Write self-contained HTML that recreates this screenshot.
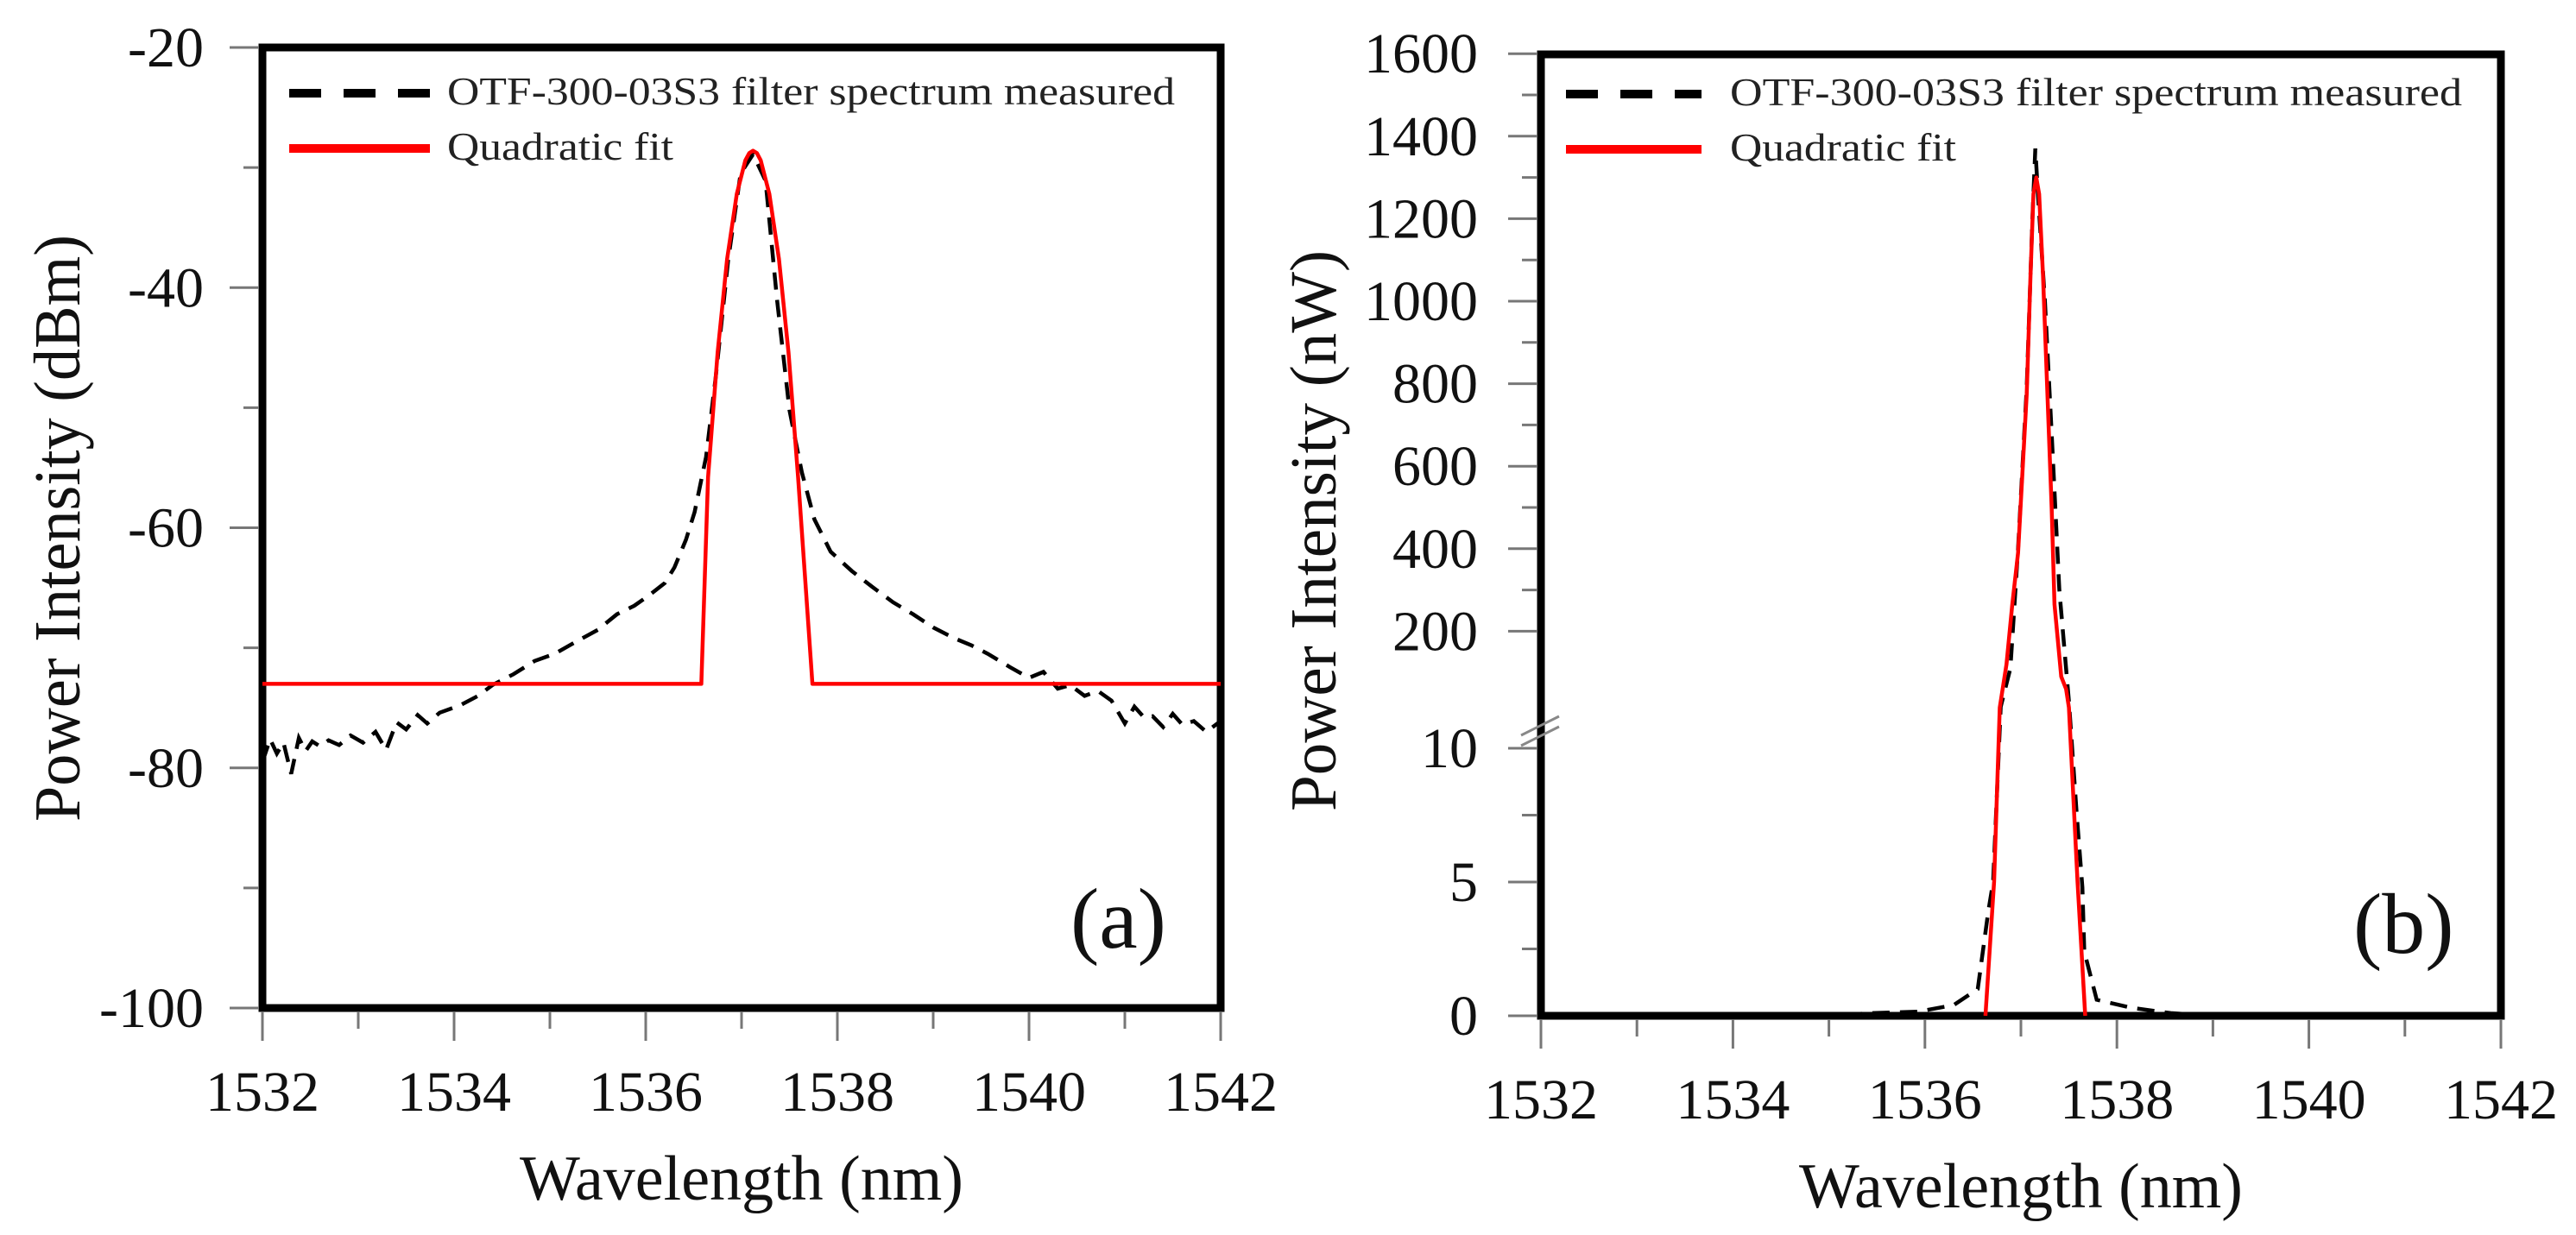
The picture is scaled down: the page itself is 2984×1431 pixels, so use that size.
<!DOCTYPE html>
<html><head><meta charset="utf-8"><style>
html,body{margin:0;padding:0;background:#fff;}
svg{display:block;font-family:"Liberation Serif",serif;}
</style></head><body>
<svg id="fig" width="2984" height="1431" viewBox="0 0 2984 1431" xmlns="http://www.w3.org/2000/svg">
<g id="pa"></g>
<g id="pb"></g>
</svg>
<script>
// ---- Panel (a) data (dBm) ----
const aMeasX = [1532.00,1532.08,1532.15,1532.22,1532.30,1532.38,1532.45,1532.52,1532.60,1532.69,1532.80,1532.92,1533.05,1533.18,1533.29,1533.40,1533.50,1533.62,1533.72,1533.85,1534.06,1534.25,1534.40,1534.62,1534.84,1535.05,1535.27,1535.50,1535.70,1535.88,1536.04,1536.20,1536.30,1536.42,1536.51,1536.63,1536.73,1536.86,1536.99,1537.12,1537.25,1537.37,1537.50,1537.63,1537.76,1537.93,1538.15,1538.36,1538.58,1538.79,1539.00,1539.22,1539.40,1539.57,1539.80,1540.00,1540.15,1540.30,1540.43,1540.58,1540.72,1540.86,1541.00,1541.10,1541.20,1541.29,1541.40,1541.50,1541.60,1541.72,1541.85,1542.00];
const aMeasY = [-79.5,-77.6,-78.8,-77.9,-80.5,-77.5,-78.6,-77.8,-78.2,-77.7,-78.1,-77.3,-77.9,-77.0,-78.5,-76.2,-76.8,-75.6,-76.3,-75.4,-74.8,-74.0,-73.1,-72.2,-71.1,-70.5,-69.5,-68.5,-67.2,-66.5,-65.6,-64.6,-63.3,-61.0,-58.7,-54.1,-47.5,-37.7,-30.5,-28.9,-31.1,-41.0,-50.2,-55.4,-59.3,-62.0,-63.6,-64.9,-66.2,-67.2,-68.3,-69.2,-69.8,-70.5,-71.6,-72.5,-72.0,-73.4,-73.1,-74.0,-73.6,-74.4,-76.3,-74.9,-75.8,-75.7,-76.6,-75.5,-76.4,-76.1,-77.0,-76.1];
const aFitX = [1532.00,1536.58,1536.65,1536.75,1536.85,1536.95,1537.04,1537.08,1537.12,1537.16,1537.20,1537.29,1537.39,1537.49,1537.59,1537.67,1537.74,1542.00];
const aFitY = [-73.0,-73.0,-55.8,-45.4,-37.6,-32.2,-29.4,-28.8,-28.6,-28.8,-29.4,-32.2,-37.6,-45.4,-55.8,-65.0,-73.0,-73.0];
const aYTicks = [-20,-40,-60,-80,-100];
const aYLabels = ["-20","-40","-60","-80","-100"];
const xTicks = [1532,1534,1536,1538,1540,1542];
const xLabels = ["1532","1534","1536","1538","1540","1542"];

// ---- Panel (b) data (nW, broken axis) ----
const bMeasX = [1532.00,1535.00,1535.45,1535.92,1536.30,1536.55,1536.66,1536.71,1536.79,1536.89,1536.97,1537.06,1537.12,1537.15,1537.18,1537.25,1537.32,1537.40,1537.50,1537.58,1537.64,1537.66,1537.79,1538.15,1538.56,1539.00,1542.00];
const bMeasY = [0,0,0.1,0.15,0.4,1.0,3.9,5.0,17,110,400,790,1200,1370,1250,1000,680,300,30,7.6,4.8,2.4,0.6,0.3,0.1,0,0];
const bFitX = [1536.63,1536.72,1536.78,1536.85,1536.91,1536.97,1537.06,1537.10,1537.13,1537.16,1537.19,1537.23,1537.32,1537.35,1537.42,1537.47,1537.50,1537.59,1537.67];
const bFitY = [0,5,15,120,265,390,774,1062,1260,1300,1260,1062,500,265,90,60,15,5,0];
const bYTicksUp = [200,400,600,800,1000,1200,1400,1600];
const bYLabelsUp = ["200","400","600","800","1000","1200","1400","1600"];
const bYTicksLow = [0,5,10];
const bYLabelsLow = ["0","5","10"];

const NS="http://www.w3.org/2000/svg";
function mk(parent,tag,attrs,text){const e=document.createElementNS(NS,tag);for(const k in attrs)e.setAttribute(k,attrs[k]);if(text!==undefined)e.textContent=text;parent.appendChild(e);return e;}

function drawPanel(g, box, xs, ys, opt){
  const fr=mk(g,'rect',{x:box.l,y:box.t,width:box.r-box.l,height:box.b-box.t,fill:'none',stroke:'#000','stroke-width':9});
  
  
  for(let v=1532;v<=1542;v++){
    const major=(v%2===0);
    const tk=mk(g,'line',{x1:xs(v),x2:xs(v),y1:box.b+4,y2:box.b+(major?38:24),stroke:'#777','stroke-width':3});
    
    
  }
  xTicks.forEach((v,i)=>{
    const t=mk(g,'text',{x:xs(v),y:box.b+119,'font-size':66,'text-anchor':'middle',fill:'#111'},xLabels[i]);
    
    
  });
  const xt=mk(g,'text',{x:(box.l+box.r)/2,y:box.b+222,'font-size':74,'text-anchor':'middle',fill:'#111'},'Wavelength (nm)');
  
  
  const yt=mk(g,'text',{x:0,y:0,'font-size':76,'text-anchor':'middle',fill:'#111',transform:`translate(${opt.ytx},${opt.yty}) rotate(-90)`,textLength:opt.ytl,lengthAdjust:'spacingAndGlyphs'},opt.ytitle);
  
  
  const l1=mk(g,'line',{x1:opt.lgx1,x2:opt.lgx2,y1:opt.lgy,y2:opt.lgy,stroke:'#000','stroke-width':10,'stroke-dasharray':'37 26'});
  
  
  const t1=mk(g,'text',{x:opt.lgtx,y:opt.lgy+13,'font-size':46,fill:'#222',textLength:opt.lgtl,lengthAdjust:'spacingAndGlyphs'},'OTF-300-03S3  filter spectrum measured');
  
  
  const l2=mk(g,'line',{x1:opt.lgx1,x2:opt.lgx2,y1:opt.lgy+64,y2:opt.lgy+64,stroke:'#f00','stroke-width':10});
  
  
  const t2=mk(g,'text',{x:opt.lgtx,y:opt.lgy+77,'font-size':46,fill:'#222',textLength:262,lengthAdjust:'spacingAndGlyphs'},'Quadratic  fit');
  
  
  const pl=mk(g,'text',{x:opt.plx,y:opt.ply,'font-size':100,fill:'#111'},opt.plabel);
  
  
}
function pathFrom(X,Y,xs,ys){return X.map((x,i)=>(i?'L':'M')+xs(x).toFixed(1)+','+ys(Y[i]).toFixed(1)).join(' ');}

(function(){
  const g=document.getElementById('pa');
  const box={l:304,r:1414,t:55,b:1168};
  const xs=v=>box.l+(v-1532)/10*(box.r-box.l);
  const ys=v=>box.t+(-20-v)/80*(box.b-box.t);
  drawPanel(g,box,xs,ys,{ytitle:'Power Intensity (dBm)',ytx:92,yty:612,ytl:680,lgx1:335,lgx2:498,lgy:108,lgtx:518,lgtl:843,plabel:'(a)',plx:1240,ply:1098});
  for(let v=-20;v>=-100;v-=10){
    const major=(v%20===0);
    const tk=mk(g,'line',{x1:box.l-4,x2:box.l-(major?38:22),y1:ys(v),y2:ys(v),stroke:'#777','stroke-width':3});
    
    
  }
  aYTicks.forEach((v,i)=>{
    const t=mk(g,'text',{x:236,y:ys(v)+22,'font-size':66,'text-anchor':'end',fill:'#111'},aYLabels[i]);
    
    
  });
  const m=mk(g,'path',{d:pathFrom(aMeasX,aMeasY,xs,ys),fill:'none',stroke:'#000','stroke-width':4.5,'stroke-dasharray':'20 12'});
  
  
  const f=mk(g,'path',{d:pathFrom(aFitX,aFitY,xs,ys),fill:'none',stroke:'#f00','stroke-width':4.5,'stroke-linejoin':'round'});
  
  
})();

(function(){
  const g=document.getElementById('pb');
  const box={l:1785,r:2897,t:63,b:1177};
  const xs=v=>box.l+(v-1532)/10*(box.r-box.l);
  const ys=v=> v<=11 ? box.b - v*31 : 827 - v*0.478;
  drawPanel(g,box,xs,ys,{ytitle:'Power Intensity (nW)',ytx:1547,yty:615,ytl:650,lgx1:1814,lgx2:1971,lgy:109,lgtx:2004,lgtl:848,plabel:'(b)',plx:2726,ply:1104});
  for(let v=200;v<=1600;v+=100){
    const major=(v%200===0);
    const tk=mk(g,'line',{x1:box.l-4,x2:box.l-(major?38:22),y1:ys(v),y2:ys(v),stroke:'#777','stroke-width':3});
    
    
  }
  [0,2.5,5,7.5,10].forEach(v=>{
    const major=(v%5===0);
    const tk=mk(g,'line',{x1:box.l-4,x2:box.l-(major?38:22),y1:ys(v),y2:ys(v),stroke:'#777','stroke-width':3});
    
    
  });
  bYTicksUp.forEach((v,i)=>{
    const t=mk(g,'text',{x:1712,y:ys(v)+22,'font-size':66,'text-anchor':'end',fill:'#111'},bYLabelsUp[i]);
    
    
  });
  bYTicksLow.forEach((v,i)=>{
    const t=mk(g,'text',{x:1712,y:ys(v)+22,'font-size':66,'text-anchor':'end',fill:'#111'},bYLabelsLow[i]);
    
    
  });
  const br=mk(g,'path',{d:'M1762,852 L1806,830 M1762,864 L1806,842',stroke:'#888','stroke-width':3,fill:'none'});
  
  
  const m=mk(g,'path',{d:pathFrom(bMeasX,bMeasY,xs,ys),fill:'none',stroke:'#000','stroke-width':4.5,'stroke-dasharray':'20 12'});
  
  
  const f=mk(g,'path',{d:pathFrom(bFitX,bFitY,xs,ys),fill:'none',stroke:'#f00','stroke-width':4.5,'stroke-linejoin':'round'});
  
  
})();
</script>
</body></html>
